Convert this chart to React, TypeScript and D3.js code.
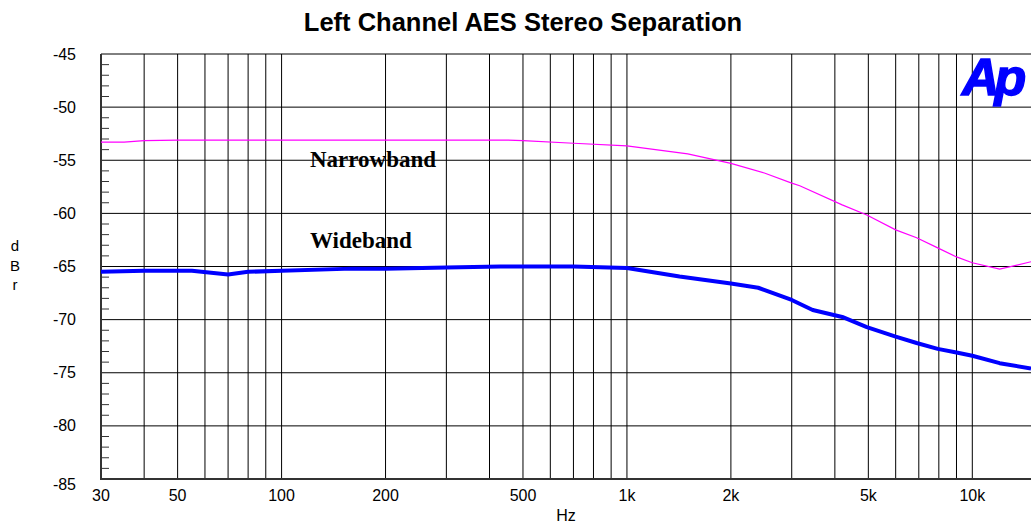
import React from "react"
import * as d3 from "d3"

// measured data (Hz, dBr)
const nbFreq = [30, 35, 40, 50, 100, 200, 300, 450, 500, 700, 1000, 1500, 2000, 2500, 3000, 3165, 4200, 4950, 6000, 6900, 7940, 9000, 10000, 12000, 14790]
const nbLevel = [-53.3, -53.3, -53.15, -53.1, -53.1, -53.1, -53.1, -53.1, -53.15, -53.4, -53.65, -54.4, -55.3, -56.2, -57.15, -57.4, -59.2, -60.15, -61.55, -62.3, -63.25, -64.1, -64.65, -65.25, -64.55]

const wbFreq = [30, 40, 55, 70, 80, 100, 160, 200, 300, 430, 700, 1000, 1420, 2000, 2400, 3000, 3450, 4200, 4950, 6000, 6900, 7940, 9000, 10000, 12000, 14790]
const wbLevel = [-65.5, -65.4, -65.4, -65.75, -65.5, -65.4, -65.2, -65.2, -65.1, -65.0, -65.0, -65.15, -65.95, -66.6, -67.0, -68.15, -69.1, -69.75, -70.7, -71.6, -72.2, -72.75, -73.1, -73.4, -74.1, -74.6]

const xTickLabels = [30, 50, 100, 200, 500, 1000, 2000, 5000, 10000]
const gridFreqs = [40, 50, 60, 70, 80, 90, 100, 200, 300, 400, 500, 600, 700, 800, 900, 1000, 2000, 3000, 4000, 5000, 6000, 7000, 8000, 9000, 10000]
const yTicks = [-45, -50, -55, -60, -65, -70, -75, -80, -85]

const W = 1031
const H = 530
const left = 101
const top = 54
const bottom = 479

const sans = "'Liberation Sans', Arial, sans-serif"
const serif = "'Liberation Serif', 'Times New Roman', serif"

const fmtHz = (f: number) => (f >= 1000 ? `${f / 1000}k` : `${f}`)

export default function App() {
  const x = d3.scaleLog().domain([30, 14790]).range([left, W])
  const y = d3.scaleLinear().domain([-85, -45]).range([bottom, top])

  const line = d3.line<[number, number]>().x(d => x(d[0])).y(d => y(d[1]))
  const nb = line(nbFreq.map((f, i) => [f, nbLevel[i]]))
  const wb = line(wbFreq.map((f, i) => [f, wbLevel[i]]))

  const minor = d3.range(-84, -45, 1).filter(v => v % 5 !== 0)

  return (
    <svg width={W} height={H} style={{ position: "absolute", left: 0, top: 0 }}>
      <rect width={W} height={H} fill="#fff" />
      <text x={523} y={31} textAnchor="middle" fontFamily={sans} fontWeight="bold" fontSize={25.5}>
        Left Channel AES Stereo Separation
      </text>

      {/* grid */}
      <g stroke="#000" strokeWidth={1}>
        {gridFreqs.map(f => (
          <line key={f} x1={x(f)} x2={x(f)} y1={top} y2={bottom} />
        ))}
        {yTicks.map(v => (
          <line key={v} x1={left} x2={W} y1={y(v)} y2={y(v)} />
        ))}
      </g>

      {/* minor ticks */}
      <g stroke="#333" strokeWidth={1}>
        {minor.map(v => (
          <line key={v} x1={left} x2={left + 8} y1={y(v)} y2={y(v)} />
        ))}
      </g>

      {/* axes */}
      <line x1={left} x2={left} y1={top} y2={bottom + 1} stroke="#333" strokeWidth={2} />
      <line x1={left} x2={W} y1={bottom} y2={bottom} stroke="#333" strokeWidth={2} />

      <defs>
        <clipPath id="plot">
          <rect x={left} y={top} width={W - left} height={bottom - top} />
        </clipPath>
      </defs>
      <g clipPath="url(#plot)" fill="none">
        <path d={nb ?? ""} stroke="#ff00ff" strokeWidth={1.2} />
        <path d={wb ?? ""} stroke="#0000ff" strokeWidth={4} strokeLinejoin="round" />
      </g>

      {/* y labels */}
      <g fontFamily={sans} fontSize={16} textAnchor="end">
        {yTicks.map((v, i) => (
          <text key={v} x={76} y={y(v) + (i === yTicks.length - 1 ? 11 : 5.5)}>
            {v}
          </text>
        ))}
      </g>
      {/* x labels */}
      <g fontFamily={sans} fontSize={16} textAnchor="middle">
        {xTickLabels.map(f => (
          <text key={f} x={x(f)} y={501}>
            {fmtHz(f)}
          </text>
        ))}
      </g>
      <text x={566} y={521} textAnchor="middle" fontFamily={sans} fontSize={16}>
        Hz
      </text>
      <g fontFamily={sans} fontSize={15} textAnchor="middle">
        <text x={15} y={251}>d</text>
        <text x={15} y={271}>B</text>
        <text x={15} y={290}>r</text>
      </g>

      <text x={310} y={167} fontFamily={serif} fontWeight="bold" fontSize={23}>
        Narrowband
      </text>
      <text x={310} y={248} fontFamily={serif} fontWeight="bold" fontSize={23}>
        Wideband
      </text>

      <text x={962} y={95} fontFamily={sans} fontWeight="900" fontStyle="italic" fontSize={52} fill="#0000ff" letterSpacing={-5} stroke="#0000ff" strokeWidth={1.5}>
        Ap
      </text>
    </svg>
  )
}
